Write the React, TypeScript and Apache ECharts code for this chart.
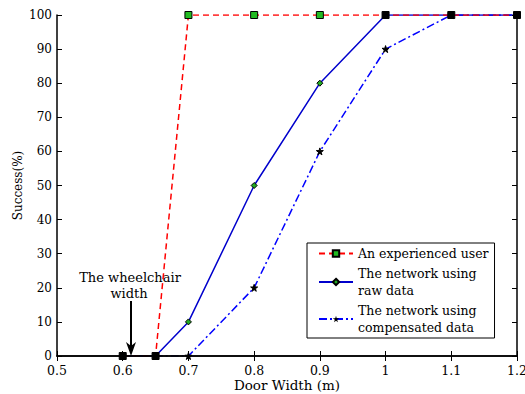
import React, { useEffect, useRef } from "react";
import * as echarts from "echarts";

const doorWidths = [0.6, 0.65, 0.7, 0.8, 0.9, 1.0, 1.1, 1.2];
const experienced = [0, 0, 100, 100, 100, 100, 100, 100];
const rawData = [0, 0, 10, 50, 80, 100, 100, 100];
const compensated = [0, 0, 0, 20, 60, 90, 100, 100];

const seriesNames = [
  "An experienced user",
  "The network using\nraw data",
  "The network using\ncompensated data",
];
const xAxisName = "Door Width (m)";
const yAxisName = "Success(%)";
const annotationLines = ["The wheelchair", "width"];

const FONT = "DejaVu Serif";
const STAR =
  "path://M50,0 L61,35 L98,35 L68,57 L79,91 L50,70 L21,91 L32,57 L2,35 L39,35 Z";

export default function App() {
  const ref = useRef<HTMLDivElement>(null);
  useEffect(() => {
    document.body.style.margin = "0";
    const chart = echarts.init(ref.current!, null, { renderer: "svg" });
    const pairs = (ys: number[]) => doorWidths.map((x, i) => [x, ys[i]]);
    const expData = doorWidths.map((x, i) => {
      const overlap = rawData[i] === experienced[i] || compensated[i] === experienced[i];
      return {
        value: [x, experienced[i]],
        itemStyle: overlap ? { color: "#000", borderColor: "#000" } : undefined,
      };
    });
    const axisCommon = {
      z: 10,
      axisLine: { show: true, lineStyle: { color: "#000", width: 1.5 } },
      axisTick: { show: true, inside: true, length: 5, lineStyle: { color: "#000" } },
      splitLine: { show: false },
    };
    const label = { fontFamily: FONT, fontSize: 12.5, color: "#000" };
    chart.setOption({
      animation: false,
      backgroundColor: "#fff",
      grid: {
        left: 57,
        right: 8,
        top: 15,
        bottom: 38,
        containLabel: false,
        outerBoundsMode: "none",
      },
      xAxis: [
        {
          type: "value",
          min: 0.5,
          max: 1.2,
          interval: 0.1,
          position: "bottom",
          name: xAxisName,
          nameLocation: "middle",
          nameGap: 22,
          nameMoveOverlap: false,
          nameTextStyle: { ...label, fontSize: 13.5 },
          axisLabel: { ...label, margin: 8 },
          ...axisCommon,
        },
        {
          type: "value",
          min: 0.5,
          max: 1.2,
          interval: 0.1,
          position: "top",
          axisLabel: { show: false },
          ...axisCommon,
        },
      ],
      yAxis: [
        {
          type: "value",
          min: 0,
          max: 100,
          interval: 10,
          position: "left",
          name: yAxisName,
          nameLocation: "middle",
          nameGap: 33,
          nameMoveOverlap: false,
          nameTextStyle: { ...label, fontSize: 12 },
          axisLabel: { ...label, fontSize: 12, margin: 5 },
          ...axisCommon,
        },
        {
          type: "value",
          min: 0,
          max: 100,
          interval: 10,
          position: "right",
          axisLabel: { show: false },
          ...axisCommon,
        },
      ],
      legend: {
        orient: "vertical",
        left: 307,
        top: 243,
        padding: [2, 6, 2, 11],
        itemGap: 3,
        itemWidth: 34,
        itemHeight: 8,
        borderColor: "#000",
        borderWidth: 1,
        backgroundColor: "#fff",
        textStyle: { ...label, lineHeight: 17 },
        data: seriesNames,
      },
      series: [
        {
          name: seriesNames[2],
          type: "line",
          data: pairs(compensated),
          symbol: STAR,
          symbolSize: 7,
          itemStyle: { color: "#000", borderColor: "#000" },
          lineStyle: { color: "#0000ff", width: 1.5, type: [8, 3, 2, 3] },
          z: 2,
        },
        {
          name: seriesNames[1],
          type: "line",
          data: pairs(rawData),
          symbol: "diamond",
          symbolSize: 6,
          itemStyle: { color: "#22aa22", borderColor: "#000", borderWidth: 1 },
          lineStyle: { color: "#0000cc", width: 1.5, type: "solid" },
          z: 3,
        },
        {
          name: seriesNames[0],
          type: "line",
          data: expData,
          symbol: "rect",
          symbolSize: 7,
          itemStyle: { color: "#22bb22", borderColor: "#000", borderWidth: 1 },
          lineStyle: { color: "#ff0000", width: 1.5, type: [6, 4] },
          z: 4,
        },
      ],
      graphic: [
        {
          type: "text",
          x: 130,
          y: 277,
          z: 20,
          style: {
            text: annotationLines[0],
            fontFamily: FONT,
            fontSize: 13,
            fill: "#000",
            align: "center",
            verticalAlign: "middle",
          },
        },
        {
          type: "text",
          x: 129,
          y: 293,
          z: 20,
          style: {
            text: annotationLines[1],
            fontFamily: FONT,
            fontSize: 13,
            fill: "#000",
            align: "center",
            verticalAlign: "middle",
          },
        },
        {
          type: "line",
          z: 20,
          shape: { x1: 131, y1: 301, x2: 131, y2: 347 },
          style: { stroke: "#000", lineWidth: 2 },
        },
        {
          type: "polygon",
          z: 20,
          shape: { points: [[126, 342], [131, 346], [136, 342], [131, 356]] },
          style: { fill: "#000" },
        },
      ],
    });
    return () => chart.dispose();
  }, []);
  return <div ref={ref} style={{ width: 525, height: 394 }} />;
}
